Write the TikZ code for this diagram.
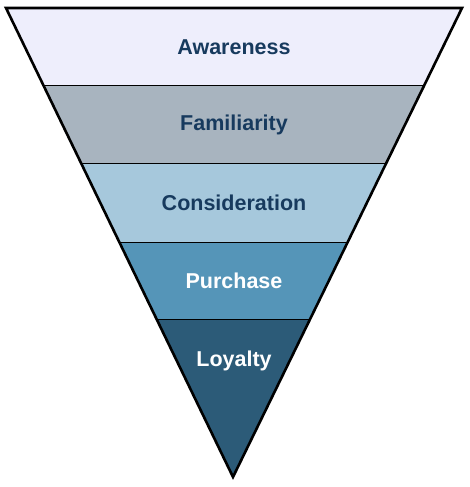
\documentclass[tikz,border=0pt]{standalone}
\usepackage{fontspec}
\setmainfont{Liberation Sans}
\usetikzlibrary{calc}
\definecolor{cA}{HTML}{EEEEFC}
\definecolor{cF}{HTML}{A8B4BF}
\definecolor{cC}{HTML}{A6C8DC}
\definecolor{cP}{HTML}{5595B8}
\definecolor{cL}{HTML}{2C5B78}
\definecolor{navy}{HTML}{173A5E}
\tikzset{
  lbl/.style={font=\bfseries\fontsize{21.5}{24}\selectfont, inner sep=0pt},
  darklbl/.style={lbl, text=navy},
  lightlbl/.style={lbl, text=white},
  divider/.style={line width=1pt, black},
  outline/.style={line width=2.6pt, black, line join=miter}
}
\begin{document}
\begin{tikzpicture}[x=1pt,y=-1pt]
\useasboundingbox (0,0) rectangle (470,487);
\coordinate (TL) at (6,8);
\coordinate (TR) at (462,8);
\coordinate (AP) at (233,477);
% boundary points along sides
\foreach \i/\y in {1/86,2/164,3/242,4/320}{
  \pgfmathsetmacro{\t}{(\y-8)/469}
  \coordinate (L\i) at ($(TL)!\t!(AP)$);
  \coordinate (R\i) at ($(TR)!\t!(AP)$);
}
\fill[cA] (TL) -- (TR) -- (R1) -- (L1) -- cycle;
\fill[cF] (L1) -- (R1) -- (R2) -- (L2) -- cycle;
\fill[cC] (L2) -- (R2) -- (R3) -- (L3) -- cycle;
\fill[cP] (L3) -- (R3) -- (R4) -- (L4) -- cycle;
\fill[cL] (L4) -- (R4) -- (AP) -- cycle;
\draw[divider] (L1) -- (R1);
\draw[divider] (L2) -- (R2);
\draw[divider] (L3) -- (R3);
\draw[divider] (L4) -- (R4);
\draw[outline] (TL) -- (TR) -- (AP) -- cycle;
\node[darklbl] (aw) at (234,47) {Awareness};
\node[darklbl] (fa) at (234,125) {Familiarity};
\node[darklbl] (co) at (234,203) {Consideration};
\node[lightlbl] (pu) at (234,281) {Purchase};
\node[lightlbl] (lo) at (234,361) {Loyalty};
\end{tikzpicture}
\end{document}
